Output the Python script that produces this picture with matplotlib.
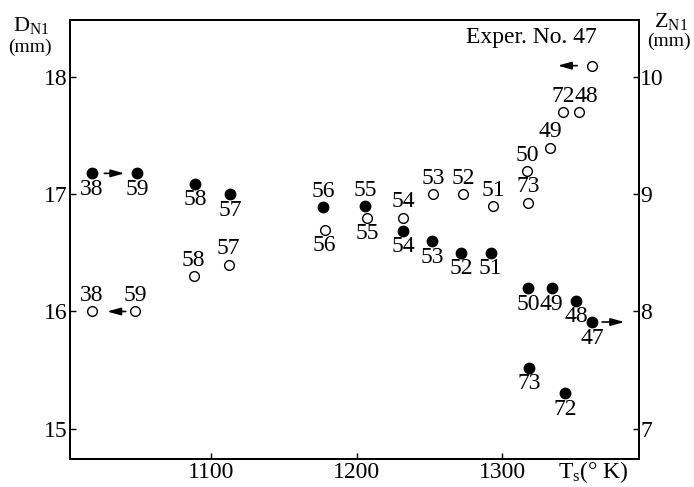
import matplotlib
matplotlib.use('Agg')
import matplotlib.pyplot as plt

plt.rcParams['font.family'] = ['Liberation Serif', 'DejaVu Serif']
plt.rcParams['mathtext.fontset'] = 'custom'
plt.rcParams['mathtext.rm'] = 'Liberation Serif'
plt.rcParams['mathtext.it'] = 'Liberation Serif:italic'

# ---- data ----
run_ids = ['38', '59', '58', '57', '56', '55', '54', '53', '52', '51',
           '50', '49', '48', '47', '73', '72']
# filled circles: D_N1 (left axis)
T_filled = [1018, 1049, 1089, 1113, 1177, 1206, 1232, 1252, 1272, 1292,
            1318, 1334, 1351, 1362, 1318.5, 1343]
D_values = [17.18, 17.18, 17.09, 17.0, 16.89, 16.9, 16.69, 16.6, 16.5, 16.5,
            16.2, 16.2, 16.09, 15.91, 15.52, 15.3]
# open circles: Z_N1 (right axis)
T_open = [1018, 1048, 1088, 1112, 1178, 1207, 1232, 1252.5, 1273, 1294,
          1317, 1333, 1353, 1362, 1318, 1342]
Z_values = [8.0, 8.0, 8.3, 8.4, 8.7, 8.8, 8.8, 9.0, 9.0, 8.9,
            9.2, 9.4, 9.7, 10.1, 8.93, 9.7]

x_ticks = [1100, 1200, 1300]
d_ticks = [15, 16, 17, 18]
z_ticks = [7, 8, 9, 10]

# label placement: +1 above, -1 below, 0 none
filled_side = [-1, -1, -1, -1, 1, 1, -1, -1, -1, -1, -1, -1, -1, -1, -1, -1]
open_side = [1, 1, 1, 1, -1, -1, 1, 1, 1, 1, 1, 1, 1, 0, 1, 1]
open_dx = [0, 0, 0, 0, 0, 0, 0, 0, 0, 0, 0, 0, 5, 0, 0, 0]

FS = 17
fig = plt.figure(figsize=(6.94, 4.87), dpi=100)
ax = fig.add_axes([70 / 694, 1 - 459 / 487, 569 / 694, 439 / 487])
ax.set_xlim(1003, 1394)
ax.set_ylim(14.74, 18.49)
ax2 = ax.twinx()
ax2.set_ylim(6.74, 10.49)

for a in (ax, ax2):
    for s in a.spines.values():
        s.set_linewidth(1.3)

ax.set_xticks(x_ticks)
ax.set_yticks(d_ticks)
ax.tick_params(direction='in', length=4, width=1, labelsize=FS, pad=2)
ax.tick_params(axis='y', pad=2)
ax2.set_yticks(z_ticks)
ax2.tick_params(direction='in', length=4, width=1, labelsize=FS, pad=1)

ax.plot(T_filled, D_values, 'o', color='black', ms=7.5, linestyle='none', zorder=3)
ax2.plot(T_open, Z_values, 'o', mfc='white', mec='black', ms=7, mew=1.0,
         linestyle='none', zorder=3)

off = 11.5
for lab, t, d, s in zip(run_ids, T_filled, D_values, filled_side):
    if s:
        ax.annotate(lab, (t, d), xytext=(0, s * off), textcoords='offset points',
                    ha='center', va='center', fontsize=FS)
for lab, t, z, s, dx in zip(run_ids, T_open, Z_values, open_side, open_dx):
    if s:
        ax2.annotate(lab, (t, z), xytext=(dx, s * off), textcoords='offset points',
                     ha='center', va='center', fontsize=FS)

arrow = dict(color='black', lw=1.2, mutation_scale=9)
# filled 38 -> 59 (right)
ax.annotate('', xy=(T_filled[1], D_values[1]), xytext=(T_filled[0], D_values[0]),
            arrowprops=dict(arrowstyle='-|>,head_length=0.9,head_width=0.25',
                            shrinkA=9, shrinkB=9, **arrow))
# open 59 -> 38 (left)
ax2.annotate('', xy=(T_open[0], Z_values[0]), xytext=(T_open[1], Z_values[1]),
             arrowprops=dict(arrowstyle='-|>,head_length=0.9,head_width=0.25',
                             shrinkA=7, shrinkB=11, **arrow))
# open 47 arrow to the left
ax2.annotate('', xy=(T_open[13], Z_values[13]), xytext=(-25, 0),
             textcoords='offset points',
             arrowprops=dict(arrowstyle='<|-,head_length=0.9,head_width=0.25',
                             shrinkA=0, shrinkB=11, **arrow))
# filled 47 arrow to the right
ax.annotate('', xy=(T_filled[13], D_values[13]), xytext=(23, 0),
            textcoords='offset points',
            arrowprops=dict(arrowstyle='<|-,head_length=0.9,head_width=0.25',
                            shrinkA=0, shrinkB=7, **arrow))

fig.text(597 / 694, 1 - 37 / 487, 'Exper. No. 47', ha='right', va='center', fontsize=FS)
fig.text(31 / 694, 1 - 26 / 487, r'D$_{\mathrm{N1}}$', ha='center', va='center', fontsize=16)
fig.text(30 / 694, 1 - 47 / 487, '(mm)', ha='center', va='center', fontsize=14)
fig.text(671 / 694, 1 - 21 / 487, r'Z$_{\mathrm{N1}}$', ha='center', va='center', fontsize=16)
fig.text(669 / 694, 1 - 41 / 487, '(mm)', ha='center', va='center', fontsize=14)
fig.text(593 / 694, 1 - 472 / 487, r'T$_{\mathrm{s}}$(° K)', ha='center', va='center', fontsize=FS)

fig.savefig('out.png', dpi=100)
